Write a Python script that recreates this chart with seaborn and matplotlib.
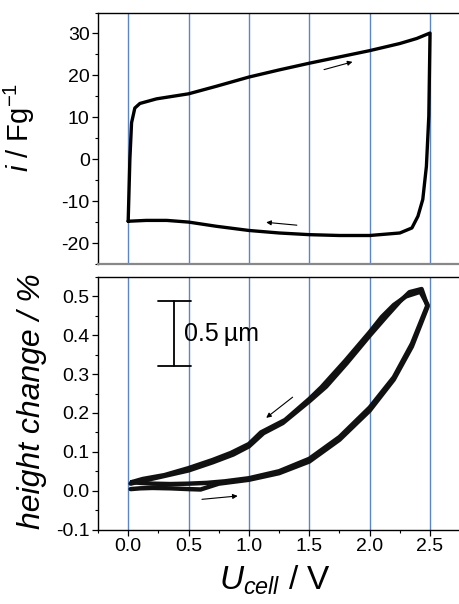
import numpy as np
import pandas as pd
import matplotlib
matplotlib.use("Agg")
import matplotlib.pyplot as plt
from matplotlib.ticker import MultipleLocator
import seaborn as sns

# ---- data ----
cv_u = [0.0, 0.014, 0.028, 0.055, 0.097, 0.235, 0.50, 0.73, 1.00, 1.25, 1.50, 2.00, 2.25, 2.39, 2.50,
        2.49, 2.47, 2.44, 2.40, 2.35, 2.25, 2.00, 1.75, 1.50, 1.25, 1.00, 0.73, 0.50, 0.32, 0.15, 0.0]
cv_i = [-14.8, 0.0, 8.7, 12.2, 13.3, 14.4, 15.6, 17.4, 19.6, 21.3, 22.9, 25.9, 27.6, 28.8, 30.1,
        10.3, -1.7, -9.6, -13.6, -16.4, -17.6, -18.2, -18.2, -18.0, -17.6, -17.0, -16.0, -15.0, -14.6, -14.6, -14.8]

cycA_u = [0.02, 0.10, 0.20, 0.35, 0.50, 0.60, 0.75, 1.00, 1.25, 1.50, 1.75, 2.00, 2.20, 2.35, 2.48,
          2.43, 2.33, 2.25, 2.14, 2.00, 1.81, 1.64, 1.50, 1.28, 1.12, 1.00, 0.87, 0.70, 0.50, 0.26, 0.10, 0.02]
cycA_h = [0.004, 0.006, 0.007, 0.006, 0.004, 0.003, 0.018, 0.028, 0.045, 0.075, 0.131, 0.206, 0.286, 0.371, 0.474,
          0.519, 0.511, 0.487, 0.449, 0.399, 0.328, 0.268, 0.230, 0.174, 0.148, 0.114, 0.093, 0.073, 0.052, 0.035, 0.024, 0.018]

cycB_u = [0.03, 0.10, 0.20, 0.35, 0.50, 0.65, 0.80, 1.00, 1.25, 1.50, 1.75, 2.00, 2.20, 2.35, 2.48,
          2.42, 2.30, 2.20, 2.10, 2.00, 1.80, 1.60, 1.50, 1.30, 1.10, 1.00, 0.85, 0.70, 0.50, 0.30, 0.12, 0.03]
cycB_h = [0.022, 0.020, 0.018, 0.017, 0.018, 0.020, 0.024, 0.032, 0.050, 0.082, 0.138, 0.214, 0.292, 0.378, 0.478,
          0.512, 0.500, 0.478, 0.447, 0.408, 0.335, 0.266, 0.236, 0.182, 0.150, 0.120, 0.097, 0.079, 0.058, 0.040, 0.030, 0.022]

grid_u = [0.0, 0.5, 1.0, 1.5, 2.0, 2.5]
x_ticks = [0.0, 0.5, 1.0, 1.5, 2.0, 2.5]
x_ticklabels = ["0.0", "0.5", "1.0", "1.5", "2.0", "2.5"]
top_yticks = [-20, -10, 0, 10, 20, 30]
bot_yticks = [-0.1, 0.0, 0.1, 0.2, 0.3, 0.4, 0.5]
bot_yticklabels = ["-0.1", "0.0", "0.1", "0.2", "0.3", "0.4", "0.5"]

# ---- style ----
sns.set_style("ticks")
plt.rcParams["font.family"] = ["Liberation Sans", "DejaVu Sans"]
plt.rcParams["mathtext.fontset"] = "custom"
plt.rcParams["mathtext.rm"] = "Liberation Sans"
plt.rcParams["mathtext.it"] = "Liberation Sans:italic"
plt.rcParams["axes.unicode_minus"] = False
for k in ("text.color", "axes.labelcolor", "xtick.color", "ytick.color"):
    plt.rcParams[k] = "black"

W, H = 459, 604
fig = plt.figure(figsize=(W / 100, H / 100), dpi=100)
L = 98 / W
ax1 = fig.add_axes([L, 1 - 264 / H, 1 - L, (264 - 12.5) / H])
ax2 = fig.add_axes([L, 1 - 529.5 / H, 1 - L, (529.5 - 277) / H])

blue = "#5a86c4"
for ax in (ax1, ax2):
    for u in grid_u:
        ax.axvline(u, color=blue, lw=1.0, zorder=1)
    ax.set_xlim(-0.25, 2.74)
    ax.spines["right"].set_visible(False)
    for s in ("left", "top", "bottom"):
        ax.spines[s].set_color("black")
        ax.spines[s].set_linewidth(1.0)
    ax.tick_params(axis="both", which="major", direction="out", length=4, width=0.9,
                   labelsize=14, colors="black", pad=2)
    ax.tick_params(axis="both", which="minor", direction="out", length=2.5, width=0.8)

# top panel
df_cv = pd.DataFrame({"u": cv_u, "i": cv_i})
sns.lineplot(data=df_cv, x="u", y="i", sort=False, estimator=None, color="black", lw=2.4, ax=ax1, zorder=3)
ax1.set_ylim(-25, 35)
ax1.set_yticks(top_yticks)
ax1.yaxis.set_minor_locator(MultipleLocator(5))
ax1.set_xticks([])
ax1.spines["bottom"].set_color("#888888")
ax1.spines["bottom"].set_linewidth(1.6)
ax1.set_xlabel("")
ax1.set_ylabel(r"$i$ / Fg$^{\mathregular{-1}}$", fontsize=21)
ax1.yaxis.set_label_coords(-0.17, 0.545)
ax1.annotate("", xy=(1.88, 23.4), xytext=(1.60, 21.2),
             arrowprops=dict(arrowstyle="-|>", lw=0.8, color="black", mutation_scale=7))
ax1.annotate("", xy=(1.12, -15.0), xytext=(1.42, -15.8),
             arrowprops=dict(arrowstyle="-|>", lw=0.8, color="black", mutation_scale=7))

# bottom panel
df_h = pd.concat([
    pd.DataFrame({"u": cycA_u, "h": cycA_h, "cycle": "A"}),
    pd.DataFrame({"u": cycB_u, "h": cycB_h, "cycle": "B"}),
])
for c, g in df_h.groupby("cycle"):
    sns.lineplot(data=g, x="u", y="h", sort=False, estimator=None, color="#111111", lw=3.2, ax=ax2, zorder=3)
ax2.set_ylim(-0.1, 0.55)
ax2.set_yticks(bot_yticks)
ax2.set_yticklabels(bot_yticklabels)
ax2.yaxis.set_minor_locator(MultipleLocator(0.05))
ax2.set_xticks(x_ticks)
ax2.set_xticklabels(x_ticklabels)
ax2.xaxis.set_minor_locator(MultipleLocator(0.25))
ax2.set_ylabel("height change / %", fontsize=23, style="italic")
ax2.yaxis.set_label_coords(-0.14, 0.51)
ax2.set_xlabel(r"$U_{cell}$ / V", fontsize=24)
ax2.xaxis.set_label_coords(0.49, -0.135)
ax2.annotate("", xy=(1.125, 0.183), xytext=(1.38, 0.245),
             arrowprops=dict(arrowstyle="-|>", lw=0.8, color="black", mutation_scale=7))
ax2.annotate("", xy=(0.93, -0.013), xytext=(0.588, -0.023),
             arrowprops=dict(arrowstyle="-|>", lw=0.8, color="black", mutation_scale=7))

# scale bar
ax2.plot([0.381, 0.381], [0.322, 0.487], color="black", lw=1.3)
ax2.plot([0.243, 0.524], [0.487, 0.487], color="black", lw=1.3)
ax2.plot([0.243, 0.524], [0.322, 0.322], color="black", lw=1.3)
ax2.text(0.46, 0.403, "0.5\u2009\u00b5m", fontsize=18, va="center", ha="left")

fig.savefig("out.png", dpi=100)
